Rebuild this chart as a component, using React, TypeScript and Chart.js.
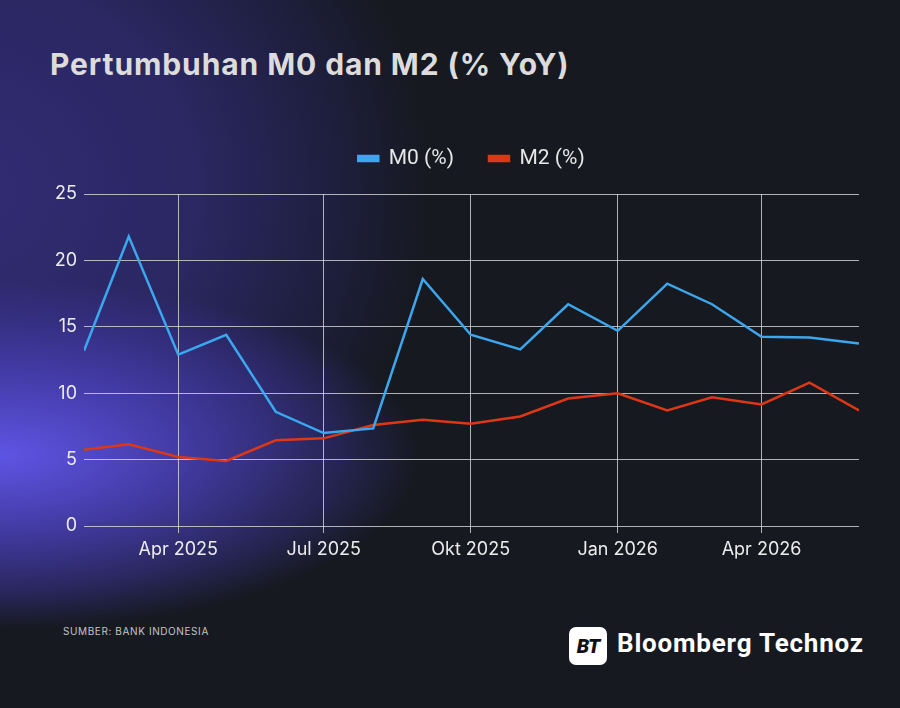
import React, { useEffect, useRef } from "react";
import { Chart, registerables } from "chart.js";

Chart.register(...registerables);

// Monthly observations (first day of month), Feb 2025 – Jun 2026
const months: string[] = [
  "2025-02", "2025-03", "2025-04", "2025-05", "2025-06", "2025-07", "2025-08", "2025-09",
  "2025-10", "2025-11", "2025-12", "2026-01", "2026-02", "2026-03", "2026-04", "2026-05", "2026-06",
];
const m0Values: number[] = [13.2, 21.8, 12.9, 14.4, 8.6, 7.0, 7.35, 18.6, 14.4, 13.3, 16.7, 14.7, 18.25, 16.7, 14.25, 14.2, 13.75];
const m2Values: number[] = [5.75, 6.15, 5.2, 4.9, 6.45, 6.6, 7.6, 8.0, 7.7, 8.25, 9.6, 10.0, 8.7, 9.7, 9.15, 10.8, 8.7];

const tickMonths: string[] = ["2025-04", "2025-07", "2025-10", "2026-01", "2026-04"];
const tickLabels: string[] = ["Apr 2025", "Jul 2025", "Okt 2025", "Jan 2026", "Apr 2026"];
const yTicks: number[] = [0, 5, 10, 15, 20, 25];

const seriesNames = ["M0 (%)", "M2 (%)"];
const seriesColors = ["#3ba7ee", "#dd3716"];

const DAY = 86400000;
const toDay = (ym: string) => {
  const [y, m] = ym.split("-").map(Number);
  return Date.UTC(y, m - 1, 1) / DAY;
};

export default function App() {
  const ref = useRef<HTMLCanvasElement | null>(null);

  useEffect(() => {
    if (!ref.current) return;
    const xs = months.map(toDay);
    const tickVals = tickMonths.map(toDay);
    const grid = "rgba(220,220,220,0.78)";
    const legendSpacer = {
      id: "legendSpacer",
      afterInit(chart: any) {
        const lg = chart.legend;
        if (!lg) return;
        const orig = lg.fit;
        lg.fit = function () {
          orig.call(this);
          this.height = 81;
        };
      },
    };
    const chart = new Chart(ref.current, {
      type: "line",
      data: {
        datasets: [
          {
            label: seriesNames[0],
            data: xs.map((x, i) => ({ x, y: m0Values[i] })),
            borderColor: seriesColors[0],
            backgroundColor: seriesColors[0],
            borderWidth: 2.5,
            pointRadius: 0,
            tension: 0,
          },
          {
            label: seriesNames[1],
            data: xs.map((x, i) => ({ x, y: m2Values[i] })),
            borderColor: seriesColors[1],
            backgroundColor: seriesColors[1],
            borderWidth: 2.5,
            pointRadius: 0,
            tension: 0,
          },
        ],
      },
      options: {
        animation: false,
        responsive: true,
        maintainAspectRatio: false,
        layout: { padding: { left: 0, right: 41, top: 0, bottom: 0 } },
        plugins: {
          legend: {
            display: true,
            position: "top",
            fullSize: false,
            labels: {
              color: "#e6e6e6",
              font: { family: "Roboto", size: 21 },
              boxWidth: 20,
              boxHeight: 5,
              padding: 35,
            },
          },
          tooltip: { enabled: false },
        },
        scales: {
          x: {
            type: "linear",
            min: xs[0],
            max: xs[xs.length - 1],
            afterBuildTicks: (s: any) => {
              s.ticks = tickVals.map((v) => ({ value: v }));
            },
            afterFit: (s: any) => {
              s.height = 40;
            },
            ticks: {
              autoSkip: false,
              maxRotation: 0,
              color: "#ececec",
              padding: 6,
              font: { family: "Inter", size: 18 },
              callback: (v: any) => {
                const i = tickVals.indexOf(Number(v));
                return i >= 0 ? tickLabels[i] : "";
              },
            },
            grid: { color: grid, lineWidth: 1, tickLength: 7, drawTicks: true },
            border: { display: false },
          },
          y: {
            min: 0,
            max: 25,
            afterBuildTicks: (s: any) => {
              s.ticks = yTicks.map((v) => ({ value: v }));
            },
            afterFit: (s: any) => {
              s.width = 84;
            },
            ticks: {
              color: "#ececec",
              padding: 7,
              font: { family: "Inter", size: 18 },
            },
            grid: { color: grid, lineWidth: 1, drawTicks: false },
            border: { display: false },
          },
        },
      },
      plugins: [legendSpacer],
    } as any);
    return () => chart.destroy();
  }, []);

  return (
    <div
      style={{
        position: "fixed",
        left: 0,
        top: 0,
        width: 900,
        height: 708,
        overflow: "hidden",
        backgroundColor: "#161920",
        backgroundImage:
          "radial-gradient(ellipse 420px 175px at 0px 455px, rgba(94,84,228,1) 0%, rgba(78,68,196,0.72) 45%, rgba(62,54,160,0.4) 80%, rgba(60,52,150,0) 100%)," +
          "radial-gradient(ellipse 460px 430px at -30px 190px, rgba(52,46,124,0.92) 0%, rgba(48,43,116,0.78) 50%, rgba(40,37,96,0.45) 80%, rgba(22,25,32,0) 100%)",
        fontFamily: "Roboto, sans-serif",
      }}
    >
      <div
        style={{
          position: "absolute",
          left: 50,
          top: 46,
          fontSize: 30,
          fontWeight: 700,
          color: "#dcdcdc",
          fontFamily: "Inter",
          letterSpacing: 0.9,
          whiteSpace: "nowrap",
        }}
      >
        Pertumbuhan M0 dan M2 (% YoY)
      </div>
      <div style={{ position: "absolute", left: 0, top: 113, width: 900, height: 453 }}>
        <canvas ref={ref} />
      </div>
      <div
        style={{
          position: "absolute",
          left: 63,
          top: 625,
          fontSize: 10,
          color: "#c4c4c4",
          fontFamily: "Inter",
          letterSpacing: 0.6,
          whiteSpace: "nowrap",
        }}
      >
        SUMBER: BANK INDONESIA
      </div>
      <div
        style={{
          position: "absolute",
          left: 569,
          top: 627,
          width: 38,
          height: 38,
          borderRadius: 7,
          background: "#ffffff",
          color: "#111111",
          fontFamily: "Roboto",
          fontWeight: 900,
          fontStyle: "italic",
          fontSize: 20,
          display: "flex",
          alignItems: "center",
          justifyContent: "center",
          letterSpacing: -1,
        }}
      >
        BT
      </div>
      <div
        style={{
          position: "absolute",
          left: 617,
          top: 628,
          fontSize: 26,
          fontWeight: 700,
          color: "#ffffff",
          fontFamily: "Roboto",
          whiteSpace: "nowrap",
          letterSpacing: 0.8,
        }}
      >
        Bloomberg Technoz
      </div>
    </div>
  );
}
